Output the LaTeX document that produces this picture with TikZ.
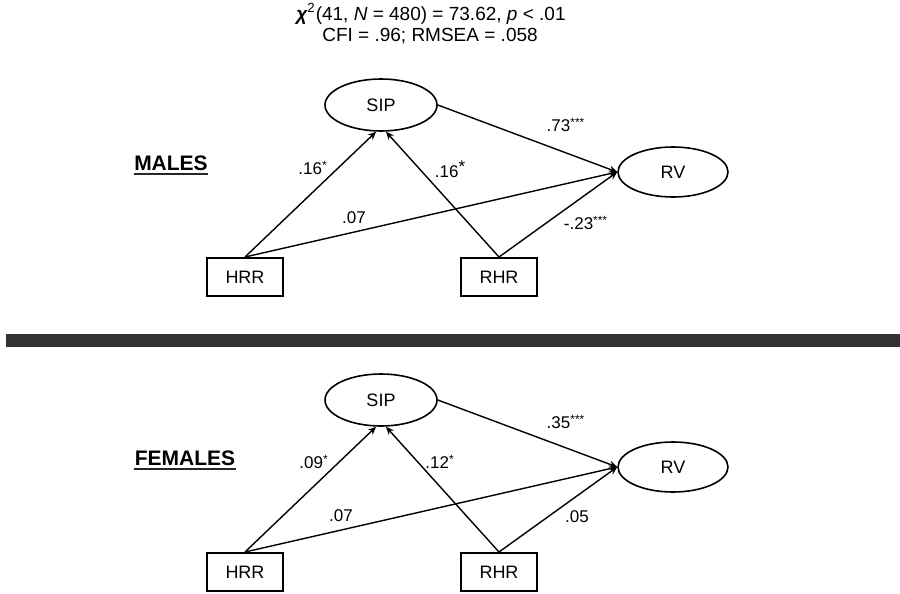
\documentclass[tikz,border=0pt]{standalone}
\usepackage{fontspec}
\setmainfont{Liberation Sans}
\usetikzlibrary{arrows.meta,shapes.geometric}

\begin{document}
\begin{tikzpicture}[x=0.5pt,y=-0.5pt] % pixel-like units, y grows downwards
\tikzset{latent/.style={draw,ellipse,line width=0.8pt,minimum width=56pt,minimum height=26pt,inner sep=0pt,font=\fontsize{9}{10}\selectfont}}
\tikzset{observed/.style={draw,rectangle,line width=1pt,minimum width=38pt,minimum height=19pt,inner sep=0pt,font=\fontsize{9}{10}\selectfont}}
\tikzset{effect/.style={-{Stealth[length=4pt,width=3.5pt]},line width=0.7pt}}
\tikzset{coef/.style={font=\fontsize{8.5}{10}\selectfont,inner sep=0pt}}
\tikzset{group/.style={font=\bfseries\fontsize{10.5}{12}\selectfont,inner sep=0pt}}
\tikzset{groupline/.style={line width=1.3pt,black!85}}
\useasboundingbox (0,0) rectangle (900,594);

% fit indices
\node[font=\fontsize{9.5}{11}\selectfont] (fitA) at (431,14) {{\bfseries\itshape χ}\textsuperscript{2}(41, \textit{N} = 480) = 73.62, \textit{p} < .01};
\node[font=\fontsize{9.5}{11}\selectfont] (fitB) at (430,36) {CFI = .96; RMSEA = .058};

% males
\node[group] (males) at (171,163) {MALES};
\draw[groupline] ([yshift=-1.6pt]males.south west) -- ([yshift=-1.6pt]males.south east);
\node[latent] (sipM) at (381,105) {SIP};
\node[latent,minimum width=55pt,minimum height=25pt] (rvM) at (673,172) {RV};
\node[observed] (hrrM) at (245,277) {HRR};
\node[observed] (rhrM) at (499,277) {RHR};
\draw[effect] (hrrM.north) -- ([xshift=-2.5pt]sipM.south);
\draw[effect] (rhrM.north) -- ([xshift=2.5pt]sipM.south);
\draw[effect] (sipM.east) -- (rvM.west);
\draw[effect] (hrrM.north) -- (rvM.west);
\draw[effect] (rhrM.north) -- (rvM.west);
\node[coef] (m1) at (313,168) {.16\textsuperscript{*}};
\node[coef] (m2) at (450,169) {.16\raisebox{0.6ex}{*}};
\node[coef] (m3) at (566,125) {.73\textsuperscript{***}};
\node[coef] (m4) at (354,218) {.07};
\node[coef] (m5) at (586,223) {-.23\textsuperscript{***}};

% divider
\fill[black!80] (6,334) rectangle (900,347);

% females
\begin{scope}[shift={(0,295)}]
\node[group] (females) at (185,163) {FEMALES};
\draw[groupline] ([yshift=-1.6pt]females.south west) -- ([yshift=-1.6pt]females.south east);
\node[latent] (sipF) at (381,105) {SIP};
\node[latent,minimum width=55pt,minimum height=25pt] (rvF) at (673,172) {RV};
\node[observed] (hrrF) at (245,277) {HRR};
\node[observed] (rhrF) at (499,277) {RHR};
\draw[effect] (hrrF.north) -- ([xshift=-2.5pt]sipF.south);
\draw[effect] (rhrF.north) -- ([xshift=2.5pt]sipF.south);
\draw[effect] (sipF.east) -- (rvF.west);
\draw[effect] (hrrF.north) -- (rvF.west);
\draw[effect] (rhrF.north) -- (rvF.west);
\node[coef] (f1) at (314,167) {.09\textsuperscript{*}};
\node[coef] (f2) at (440,167) {.12\textsuperscript{*}};
\node[coef] (f3) at (566,127) {.35\textsuperscript{***}};
\node[coef] (f4) at (341,221) {.07};
\node[coef] (f5) at (577,222) {.05};
\end{scope}
\end{tikzpicture}
\end{document}
